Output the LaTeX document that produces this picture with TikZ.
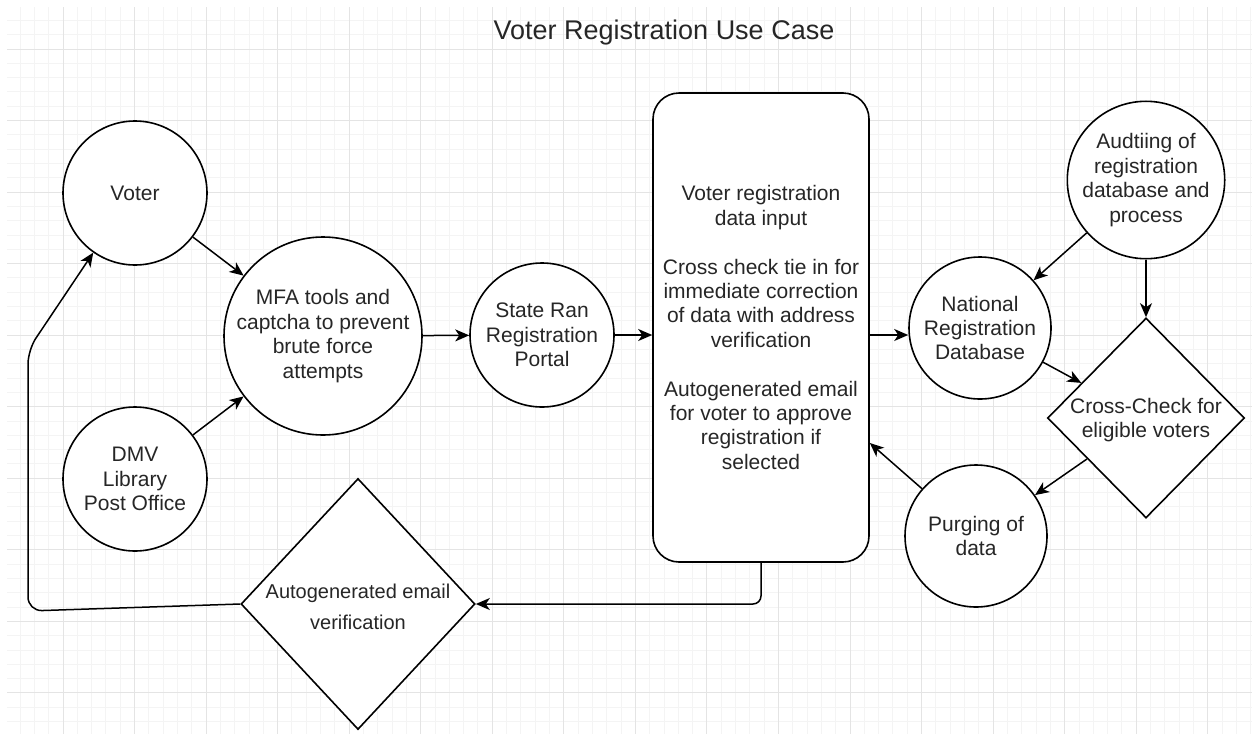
\documentclass[tikz,border=0pt]{standalone}
\usepackage{fontspec}
\setmainfont{Liberation Sans}
\usetikzlibrary{arrows.meta,shapes.geometric,calc}
\definecolor{gmaj}{RGB}{228,228,228}
\definecolor{gmin}{RGB}{244,244,244}
\definecolor{txt}{RGB}{38,38,38}
\begin{document}
\begin{tikzpicture}[x=1pt,y=-1pt,
  label/.style={text=txt, align=center, inner sep=0pt, font=\fontsize{21}{24.4}\selectfont},
  base/.style={label, draw=black, line width=1.6pt, fill=white},
  circ/.style={base, circle, minimum size=#1},
  dia/.style={draw=black, line width=1.6pt, fill=white, diamond, inner sep=0pt},
  conn/.style={line width=1.5pt, -{Stealth[length=14pt,width=12pt,inset=4pt]}},
]
\useasboundingbox (0,0) rectangle (1252,734);
\fill[white] (0,0) rectangle (1252,734);
% grid
\begin{scope}
\clip (7,7) rectangle (1252,734);
\foreach \i in {-3,...,83} \draw[gmin, line width=1pt] ({63+14.31*\i},7) -- ({63+14.31*\i},734);
\foreach \i in {-2,...,48} \draw[gmin, line width=1pt] (7,{49+14.31*\i}) -- (1252,{49+14.31*\i});
\foreach \i in {0,...,16} \draw[gmaj, line width=1pt] ({63+71.55*\i},7) -- ({63+71.55*\i},734);
\foreach \i in {0,...,9} \draw[gmaj, line width=1pt] (7,{49+71.55*\i}) -- (1252,{49+71.55*\i});
\end{scope}

\node[label, font=\fontsize{27}{32}\selectfont] (title) at (664,33) {Voter Registration Use Case};

\node[circ=144pt] (voter) at (135,193) {Voter};
\node[circ=144pt] (dmv) at (135,479) {DMV\\Library\\Post Office};
\node[circ=198pt] (mfa) at (323,336) {MFA tools and\\captcha to prevent\\brute force\\attempts};
\node[circ=144pt] (state) at (542,335) {State Ran\\Registration\\Portal};
\node[base, rectangle, rounded corners=26pt, minimum width=216pt, minimum height=469pt] (rect) at (761,327.5)
  {Voter registration\\data input\\[24.4pt]Cross check tie in for\\immediate correction\\of data with address\\verification\\[24.4pt]Autogenerated email\\for voter to approve\\registration if\\selected};
\node[circ=142pt] (nat) at (980,328) {National\\Registration\\Database};
\node[circ=142pt] (aud) at (1146,180) {Audtiing of\\registration\\database and\\process};
\node[dia, minimum width=197pt, minimum height=200pt] (cc) at (1146,418) {};
\node[label] (cctext) at (1146,420) {Cross-Check for\\eligible voters};
\node[circ=142pt] (purge) at (976,536) {Purging of\\data};
\node[dia, minimum width=234pt, minimum height=251pt] (av) at (358,604) {};
\node[label, font=\fontsize{20}{31}\selectfont] (avtext) at (358,607) {Autogenerated email\\verification};

\coordinate (pin) at ([yshift=-115.5pt]rect.east);
\coordinate (c1) at (28,611);
\coordinate (c2) at (28,350);

\draw[conn] (voter) -- (mfa);
\draw[conn] (dmv) -- (mfa);
\draw[conn] (mfa) -- (state);
\draw[conn] (state.east) -- (state.east -| rect.west);
\draw[conn] (rect.east |- state) -- (nat.west |- state);
\draw[conn] (aud) -- (nat);
\draw[conn] (aud) -- (cc);
\draw[conn] (nat) -- (cc);
\draw[conn] (cc) -- (purge);
\draw[conn] (purge) -- (pin);
\draw[conn, rounded corners=8pt] (rect.south) |- (av.east);
\draw[conn, rounded corners=14pt] (av.west) -- (c1) -- (c2) -- (voter.235.6);
\end{tikzpicture}
\end{document}
